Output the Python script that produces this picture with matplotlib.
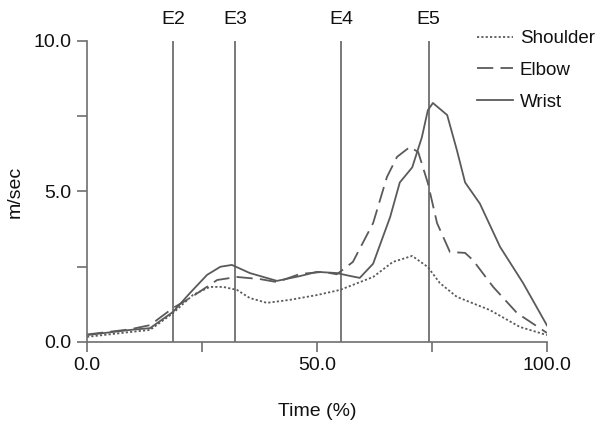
import numpy as np
import matplotlib
matplotlib.use('Agg')
from matplotlib import pyplot as plt

plt.rcParams['font.family'] = ['Liberation Sans', 'DejaVu Sans']

# time (%) and speed (m/sec)
wrist_t = [0, 9.3, 13.7, 18.7, 22.4, 26.1, 29.0, 31.5, 35.4, 41.3, 46.3, 50.0,
           54.3, 57.0, 59.3, 62.2, 65.9, 68.0, 70.7, 72.8, 74.1, 75.2, 78.3,
           80.4, 82.2, 85.4, 89.8, 94.8, 100]
wrist_v = [0.23, 0.40, 0.46, 1.00, 1.63, 2.23, 2.50, 2.56, 2.29, 2.03, 2.19, 2.33,
           2.29, 2.20, 2.13, 2.60, 4.15, 5.30, 5.80, 6.80, 7.70, 7.94, 7.54,
           6.38, 5.30, 4.60, 3.16, 1.96, 0.55]

elbow_t = [0, 9.3, 13.7, 18.7, 22.4, 28.3, 32.6, 37.6, 41.3, 46.3, 51.3, 54.3,
           55.0, 57.8, 62.2, 65.2, 67.4, 70.2, 72.0, 74.1, 76.1, 78.9, 82.2,
           83.9, 88.3, 93.5, 100]
elbow_v = [0.25, 0.42, 0.56, 1.13, 1.46, 2.06, 2.16, 2.09, 1.99, 2.26, 2.33, 2.25,
           2.33, 2.66, 3.95, 5.48, 6.15, 6.48, 6.31, 5.28, 3.95, 2.99, 2.96,
           2.72, 1.83, 0.96, 0.30]

shoulder_t = [0, 9.3, 13.7, 18.7, 23.0, 26.7, 29.6, 32.6, 35.4, 39.1, 44.1, 50.0,
              55.0, 62.2, 66.5, 70.7, 74.1, 76.7, 80.4, 87.6, 94.1, 100]
shoulder_v = [0.17, 0.33, 0.40, 0.96, 1.56, 1.83, 1.83, 1.73, 1.46, 1.30, 1.40, 1.56,
              1.73, 2.16, 2.66, 2.86, 2.49, 1.96, 1.50, 1.06, 0.50, 0.23]

events = ['E2', 'E3', 'E4', 'E5']
event_t = [18.7, 32.2, 55.2, 74.3]

gray = '#5a5a5a'
txt = '#111111'

fig = plt.figure(figsize=(6.03, 4.23), dpi=100)
ax = fig.add_axes([0.1443, 0.1915, 0.7628, 0.7116])

for name, t in zip(events, event_t):
    ax.axvline(t, color='#6e6e6e', lw=1.3, zorder=1)
    ax.text(t, 10.7, name, ha='center', va='center', fontsize=14, color=txt)

l1, = ax.plot(shoulder_t, shoulder_v, color=gray, lw=1.3, ls=(0, (1.2, 1.2)))
l2, = ax.plot(elbow_t, elbow_v, color=gray, lw=1.3, ls=(0, (9, 4)))
l3, = ax.plot(wrist_t, wrist_v, color=gray, lw=1.3)

ax.set_xlim(0, 100)
ax.set_ylim(0, 10)
ax.set_xticks([0, 25, 50, 75, 100])
ax.set_xticklabels(['0.0', '', '50.0', '', '100.0'])
ax.set_yticks([0, 2.5, 5, 7.5, 10])
ax.set_yticklabels(['0.0', '', '5.0', '', '10.0'])
ax.tick_params(length=7, width=1.2, color='#6e6e6e', labelsize=14,
               labelcolor=txt, pad=4)
for s in ['top', 'right']:
    ax.spines[s].set_visible(False)
for s in ['left', 'bottom']:
    ax.spines[s].set_color('#6e6e6e')
    ax.spines[s].set_linewidth(1.2)

ax.set_xlabel('Time (%)', fontsize=14, color=txt, labelpad=21)
ax.set_ylabel('m/sec', fontsize=14, color=txt, labelpad=7)

fig.legend([l1, l2, l3], ['Shoulder', 'Elbow', 'Wrist'], loc='upper left',
           bbox_to_anchor=(0.77, 0.96), frameon=False, fontsize=13.5,
           handlelength=1.9, handletextpad=0.35, labelspacing=0.78,
           borderpad=0.2, labelcolor=txt)

fig.savefig('out.png', dpi=100)
